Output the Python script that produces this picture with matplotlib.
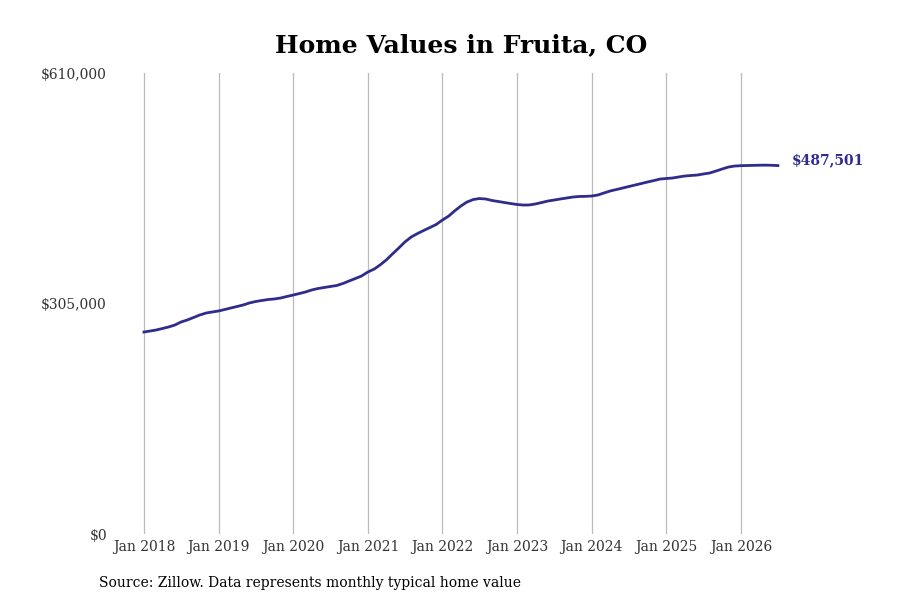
import pandas as pd
import matplotlib
matplotlib.use("Agg")
import matplotlib.pyplot as plt
import matplotlib.dates as mdates
from matplotlib.ticker import FuncFormatter

# Valores mensuales (Zillow), ene 2018 - jul 2026
v2018 = [267300, 268600, 269900, 271900, 273900, 276500, 280500, 283200, 286500, 289800, 292400, 293800]
v2019 = [295100, 297100, 299000, 301000, 303000, 305700, 307600, 309000, 310300, 311000, 312300, 314300]
v2020 = [316200, 318200, 320200, 322900, 324800, 326200, 327500, 328800, 331500, 334800, 338100, 341400]
v2021 = [346700, 350600, 355900, 362600, 370500, 378400, 386400, 393000, 397600, 401600, 405600, 409500]
v2022 = [415500, 420800, 427400, 434000, 439300, 442600, 443900, 443300, 441300, 440000, 438600, 437300]
v2023 = [436000, 435300, 435400, 436700, 438600, 440600, 441900, 443300, 444600, 445900, 446600, 446800]
v2024 = [447200, 448600, 451200, 453900, 455800, 457800, 459800, 461800, 463800, 465800, 467700, 469700]
v2025 = [470400, 471100, 472400, 473700, 474400, 475000, 476400, 477700, 480300, 483000, 485600, 486900]
v2026 = [487400, 487600, 487800, 488000, 488100, 487900, 487501]

valores = v2018 + v2019 + v2020 + v2021 + v2022 + v2023 + v2024 + v2025 + v2026
fechas = pd.date_range("2018-01-01", periods=len(valores), freq="MS")

anios = pd.date_range("2018-01-01", "2026-01-01", freq="YS")
y_ticks = [0, 305000, 610000]

color_linea = "#2F2C8C"
fuente = "DejaVu Serif"

fig = plt.figure(figsize=(9, 6), dpi=100)
ax = fig.add_axes([0.125, 0.11, 0.775, 0.7683])

ax.plot(fechas, valores, color=color_linea, linewidth=2)

ax.set_ylim(0, 610000)
ax.set_xlim(pd.Timestamp("2017-07-31"), pd.Timestamp("2026-12-05"))

ax.set_yticks(y_ticks)
ax.yaxis.set_major_formatter(FuncFormatter(lambda v, p: f"${v:,.0f}"))
ax.set_xticks(anios)
ax.xaxis.set_major_formatter(mdates.DateFormatter("Jan %Y"))

for s in ax.spines.values():
    s.set_visible(False)
ax.tick_params(length=0, labelsize=10, labelcolor="#333333")
ax.tick_params(axis="y", pad=4)
ax.tick_params(axis="x", pad=4)
for lbl in ax.get_xticklabels() + ax.get_yticklabels():
    lbl.set_family(fuente)

ax.grid(axis="x", color="#bbbbbb", linewidth=0.9)
ax.set_axisbelow(True)

ax.set_title("Home Values in Fruita, CO", fontsize=18, fontweight="bold",
             family=fuente, pad=15)

# Etiqueta del ultimo valor
ax.annotate(f"${valores[-1]:,}", xy=(fechas[-1], valores[-1]), xytext=(10, 4),
            textcoords="offset points", va="center", ha="left",
            fontsize=10, fontweight="bold", color=color_linea, family=fuente)

fig.text(0.11, 0.022, "Source: Zillow. Data represents monthly typical home value",
         fontsize=10, family=fuente, color="black")

fig.savefig("out.png", dpi=100)
